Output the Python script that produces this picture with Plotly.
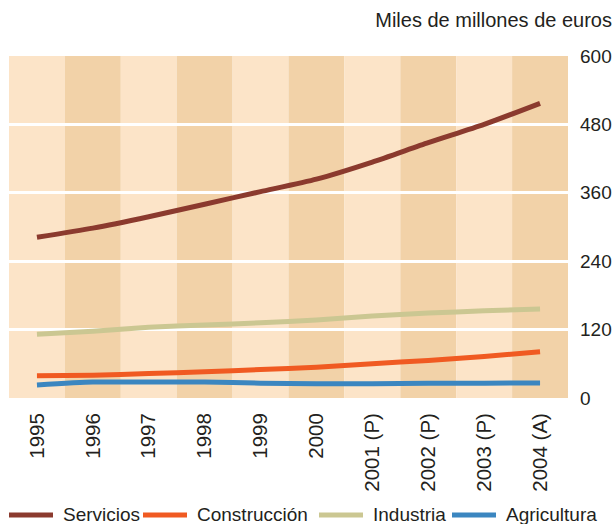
import plotly.graph_objects as go

years = ["1995", "1996", "1997", "1998", "1999", "2000", "2001 (P)", "2002 (P)", "2003 (P)", "2004 (A)"]
servicios = [282, 298, 318, 340, 362, 384, 414, 448, 480, 517]
construccion = [39, 40, 43, 46, 50, 54, 60, 66, 73, 81]
industria = [112, 117, 124, 128, 132, 137, 144, 149, 153, 156]
agricultura = [23, 28, 28, 28, 26, 25, 25, 26, 26, 26.5]

series = [
    ("Servicios", servicios, "#8B3A2E"),
    ("Construcción", construccion, "#F05A22"),
    ("Industria", industria, "#CBC792"),
    ("Agricultura", agricultura, "#3B86C0"),
]
band_colors = ["#FCE4C8", "#F2D2A8"]

# legend layout (pixel x of each key's sample start on the page)
legend_key_x = [9, 143, 319, 452]
legend_key_len = 44
legend_text_gap = 8
legend_y_px = 515

W, H = 616, 524
ML, MR, MT, MB = 9, 48, 56, 126
PW, PH = W - ML - MR, H - MT - MB

xs = list(range(len(years)))
fig = go.Figure()
for name, vals, col in series:
    fig.add_trace(go.Scatter(x=xs, y=vals, mode="lines", name=name, showlegend=False,
                             line=dict(color=col, width=5, shape="spline", smoothing=0.6)))

shapes = []
for i in xs:
    shapes.append(dict(type="rect", xref="x", yref="y", x0=i - 0.5, x1=i + 0.5, y0=0, y1=600,
                       fillcolor=band_colors[i % 2], line=dict(width=0), layer="below"))

font = "Liberation Sans, Arial, sans-serif"
annotations = []
ly = (H - MB - legend_y_px) / PH
for (name, _, col), kx in zip(series, legend_key_x):
    x0 = (kx - ML) / PW
    x1 = (kx + legend_key_len - ML) / PW
    shapes.append(dict(type="line", xref="paper", yref="paper", x0=x0, x1=x1, y0=ly, y1=ly,
                       line=dict(color=col, width=5)))
    annotations.append(dict(text=name, xref="paper", yref="paper",
                            x=(kx + legend_key_len + legend_text_gap - ML) / PW, y=ly + 1 / PH,
                            xanchor="left", yanchor="middle", showarrow=False,
                            font=dict(size=19, family=font, color="#231F20")))

fig.update_layout(
    width=W, height=H,
    margin=dict(l=ML, r=MR, t=MT, b=MB, autoexpand=False),
    paper_bgcolor="white", plot_bgcolor="white",
    shapes=shapes, annotations=annotations,
    font=dict(family=font, size=19, color="#231F20"),
    title=dict(text="Miles de millones de euros", xref="container", yref="container",
               x=612 / W, xanchor="right", y=1 - 20 / H, yanchor="middle",
               font=dict(size=20, family=font, color="#231F20")),
    xaxis=dict(tickvals=xs, ticktext=years, range=[-0.5, 9.5], tickangle=-90,
               showgrid=False, zeroline=False, showline=False, ticks="",
               ticklabelstandoff=10, tickfont=dict(size=20.5), fixedrange=True),
    yaxis=dict(side="right", range=[0, 600], tickvals=[0, 120, 240, 360, 480, 600],
               showgrid=True, gridcolor="white", gridwidth=3, zeroline=False,
               showline=False, ticks="", ticklabelstandoff=11, tickfont=dict(size=19),
               fixedrange=True),
    showlegend=False,
)
fig.write_html("out.html", config={"displayModeBar": False},
               post_script="document.body.style.margin='0';document.body.style.overflow='hidden';")
